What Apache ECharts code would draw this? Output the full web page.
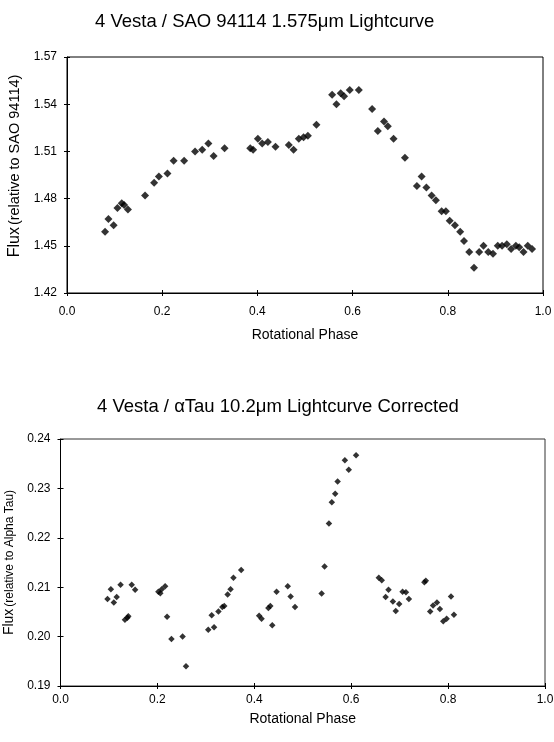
<!DOCTYPE html>
<html>
<head>
<meta charset="utf-8">
<script src="https://cdn.jsdelivr.net/npm/echarts@6/dist/echarts.min.js"></script>
<style>html,body{margin:0;padding:0;background:#fff;}#c{width:554px;height:742px;}</style>
</head>
<body>
<div id="c"></div>
<script>
// Top chart: 4 Vesta / SAO 94114 1.575um
const phaseTop = [0.080,0.087,0.098,0.106,0.115,0.120,0.128,0.164,0.183,0.193,0.211,0.224,0.246,0.269,0.284,0.297,0.308,0.331,0.385,0.391,0.401,0.410,0.422,0.438,0.466,0.476,0.487,0.497,0.506,0.524,0.557,0.566,0.575,0.582,0.594,0.613,0.641,0.653,0.666,0.674,0.686,0.710,0.735,0.745,0.755,0.766,0.775,0.787,0.796,0.804,0.815,0.826,0.834,0.845,0.855,0.866,0.875,0.885,0.895,0.905,0.914,0.924,0.933,0.943,0.950,0.959,0.968,0.977];
const fluxTop = [1.459,1.467,1.463,1.474,1.477,1.476,1.473,1.482,1.490,1.494,1.496,1.504,1.504,1.510,1.511,1.515,1.507,1.512,1.512,1.511,1.518,1.515,1.516,1.513,1.514,1.511,1.518,1.519,1.520,1.527,1.546,1.540,1.547,1.545,1.549,1.549,1.537,1.523,1.529,1.526,1.518,1.506,1.488,1.494,1.487,1.482,1.479,1.472,1.472,1.466,1.463,1.459,1.453,1.446,1.436,1.446,1.450,1.446,1.445,1.450,1.450,1.451,1.448,1.450,1.449,1.446,1.450,1.448];

// Bottom chart: 4 Vesta / alpha Tau 10.2um corrected
const phaseBot = [0.097,0.104,0.110,0.116,0.124,0.133,0.138,0.140,0.147,0.154,0.202,0.206,0.209,0.216,0.220,0.229,0.252,0.259,0.305,0.312,0.317,0.326,0.334,0.338,0.345,0.351,0.357,0.373,0.410,0.415,0.429,0.433,0.437,0.446,0.469,0.475,0.484,0.539,0.545,0.554,0.560,0.567,0.572,0.587,0.595,0.610,0.657,0.663,0.671,0.677,0.686,0.692,0.699,0.706,0.713,0.719,0.751,0.754,0.763,0.769,0.777,0.783,0.790,0.797,0.806,0.812];
const fluxBot = [0.2076,0.2096,0.2069,0.2080,0.2105,0.2034,0.2038,0.2041,0.2105,0.2095,0.2091,0.2088,0.2096,0.2102,0.2040,0.1995,0.2000,0.1940,0.2014,0.2043,0.2019,0.2051,0.2060,0.2062,0.2085,0.2096,0.2119,0.2135,0.2042,0.2036,0.2058,0.2062,0.2023,0.2091,0.2102,0.2081,0.2060,0.2087,0.2142,0.2229,0.2272,0.2289,0.2314,0.2357,0.2338,0.2367,0.2119,0.2114,0.2080,0.2095,0.2071,0.2052,0.2066,0.2091,0.2090,0.2076,0.2110,0.2113,0.2051,0.2063,0.2069,0.2056,0.2031,0.2036,0.2081,0.2044];

const xTicks = [0, 0.2, 0.4, 0.6, 0.8, 1.0];
const yTicksTop = [1.42, 1.45, 1.48, 1.51, 1.54, 1.57];
const yTicksBot = [0.19, 0.20, 0.21, 0.22, 0.23, 0.24];

const titleTop = '4 Vesta / SAO 94114 1.575\u03bcm Lightcurve';
const titleBot = '4 Vesta / \u03b1Tau 10.2\u03bcm Lightcurve Corrected';
const xName = 'Rotational Phase';
const yNameTopMain = 'Flux', yNameTopSub = '(relative to SAO 94114)';
const yNameBotMain = 'Flux', yNameBotSub = '(relative to Alpha Tau)';

const FONT = '"Liberation Sans", Arial, sans-serif';
const chart = echarts.init(document.getElementById('c'), null, {renderer: 'canvas'});

function xAxisDef(gi, labelMargin, nameGap) {
  return {
    type: 'value', gridIndex: gi, position: 'bottom', min: xTicks[0], max: xTicks[xTicks.length-1],
    interval: xTicks[1]-xTicks[0],
    name: xName, nameLocation: 'middle', nameGap: nameGap,
    nameTextStyle: {fontFamily: FONT, fontSize: 14, color: '#000', verticalAlign: 'top'},
    axisLine: {lineStyle: {color: '#000', width: 1}},
    axisTick: {length: 3, lineStyle: {color: '#000'}},
    axisLabel: {fontFamily: FONT, fontSize: 12, color: '#000', margin: labelMargin, formatter: v => v.toFixed(1)},
    splitLine: {show: false}
  };
}
function xInnerTicks(gi) {
  return {
    type: 'value', gridIndex: gi, position: 'bottom', offset: 0, min: xTicks[0], max: xTicks[xTicks.length-1],
    interval: xTicks[1]-xTicks[0],
    axisLine: {show: false}, axisLabel: {show: false}, splitLine: {show: false},
    axisTick: {inside: true, length: 3, lineStyle: {color: '#000'}}
  };
}
function yAxisDef(gi, ticks, main, sub, gap, fMain, fSub, shift) {
  return {
    type: 'value', gridIndex: gi, position: 'left', min: ticks[0], max: ticks[ticks.length-1],
    interval: +(ticks[1]-ticks[0]).toFixed(4),
    name: '{a|' + main + '}{b|' + sub + '}', nameLocation: 'middle', nameGap: gap, nameRotate: 90,
    nameTextStyle: {padding: [0, 0, 0, shift], rich: {
      a: {fontFamily: FONT, fontSize: fMain, color: '#000'},
      b: {fontFamily: FONT, fontSize: fSub, color: '#000', padding: [0, 0, 0, 2]}
    }},
    axisLine: {lineStyle: {color: '#000', width: 1}},
    axisTick: {length: 3, lineStyle: {color: '#000'}},
    axisLabel: {fontFamily: FONT, fontSize: 12, color: '#000', margin: 10, formatter: v => v.toFixed(2)},
    splitLine: {show: false}
  };
}
function yInnerTicks(gi, ticks) {
  return {
    type: 'value', gridIndex: gi, position: 'left', offset: 0, min: ticks[0], max: ticks[ticks.length-1],
    interval: +(ticks[1]-ticks[0]).toFixed(4),
    axisLine: {show: false}, axisLabel: {show: false}, splitLine: {show: false},
    axisTick: {inside: true, length: 3, lineStyle: {color: '#000'}}
  };
}

chart.setOption({
  backgroundColor: '#fff',
  animation: false,
  title: [
    {text: titleTop, left: 90, top: 7, textStyle: {fontFamily: FONT, fontSize: 18.5, fontWeight: 'normal', color: '#000'}},
    {text: titleBot, left: 92, top: 392, textStyle: {fontFamily: FONT, fontSize: 18.5, fontWeight: 'normal', color: '#000'}}
  ],
  grid: [
    {left: 67, right: 11, top: 57, bottom: 449, show: true, borderColor: '#000', borderWidth: 1, outerBoundsMode: 'none', containLabel: false},
    {left: 60.5, right: 9, top: 439, bottom: 56, show: true, borderColor: '#333', borderWidth: 1, outerBoundsMode: 'none', containLabel: false}
  ],
  xAxis: [xAxisDef(0, 13, 35), xAxisDef(1, 8, 26), xInnerTicks(0), xInnerTicks(1)],
  yAxis: [
    yAxisDef(0, yTicksTop, yNameTopMain, yNameTopSub, 40, 16, 14.5, 18),
    yAxisDef(1, yTicksBot, yNameBotMain, yNameBotSub, 35, 14, 12, 0),
    yInnerTicks(0, yTicksTop), yInnerTicks(1, yTicksBot)
  ],
  series: [
    {type: 'scatter', xAxisIndex: 0, yAxisIndex: 0, symbol: 'diamond', symbolSize: 8,
     itemStyle: {color: '#000'}, data: phaseTop.map((p, i) => [p, fluxTop[i]])},
    {type: 'scatter', xAxisIndex: 1, yAxisIndex: 1, symbol: 'diamond', symbolSize: 6.5,
     itemStyle: {color: '#000'}, data: phaseBot.map((p, i) => [p, fluxBot[i]])}
  ]
});
</script>
</body>
</html>
